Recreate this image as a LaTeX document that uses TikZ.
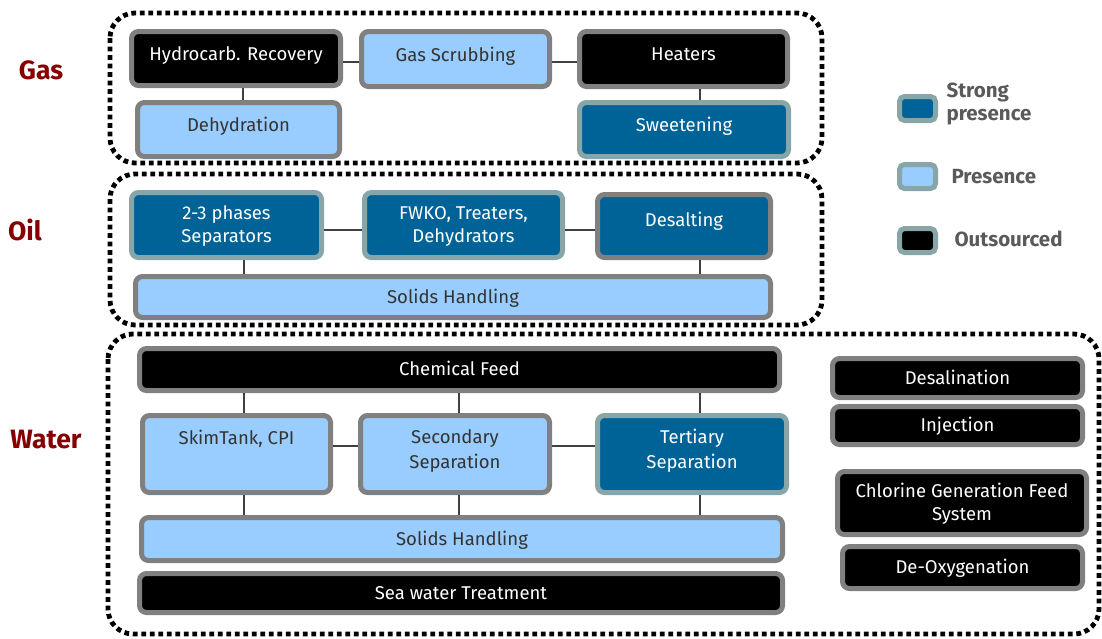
\documentclass[tikz,border=0pt]{standalone}
\usepackage{fontspec}
\setmainfont{Fira Sans}
\definecolor{dblue}{HTML}{006398}
\definecolor{tealb}{HTML}{88A5A8}
\definecolor{gborder}{HTML}{808080}
\definecolor{lblue}{HTML}{99CCFF}
\definecolor{dtext}{HTML}{333333}
\definecolor{dred}{HTML}{850000}
\definecolor{legtext}{HTML}{5A5A5A}
\definecolor{connc}{HTML}{404040}
% struts: text a little above centre (hs), centred (ctop/cbot), higher (us)
\newcommand\hs{\rule[-10pt]{0pt}{22pt}}
\newcommand\us{\rule[-14pt]{0pt}{26pt}}
\newcommand\ctop{\rule{0pt}{18pt}}
\newcommand\cbot{\rule[-6pt]{0pt}{6pt}}
\tikzset{
  box/.style={draw, line width=5pt, rounded corners=7pt, inner sep=0pt, align=center,
    font=\fontsize{18.5}{23}\selectfont},
  sz/.style 2 args={minimum width=#1pt-5pt, minimum height=#2pt-5pt},
  strongbox/.style={box, draw=tealb, fill=dblue, text=white},
  presbox/.style={box, draw=gborder, fill=lblue, text=dtext},
  outbox/.style={box, draw=gborder, fill=black, text=white},
  container/.style={draw=black, line width=4.8pt, dash pattern=on 4.8pt off 3.7pt, rounded corners=25pt},
  conn/.style={draw=connc, line width=1.1pt},
  grouplabel/.style={text=dred, font=\fontsize{26.5}{28}\selectfont\bfseries},
  legendtext/.style={text=legtext, font=\fontsize{20.5}{23.5}\selectfont\bfseries, align=left, anchor=west},
  legbox/.style={draw=tealb, line width=5pt, rounded corners=5pt, minimum width=36pt, minimum height=24pt, inner sep=0pt}
}
\begin{document}
\begin{tikzpicture}[x=1pt, y=-1pt]
\useasboundingbox (0,0) rectangle (1102,638);
\begin{scope}
\clip (0,0) rectangle (1102,638);
% containers
\draw[container] (110,13) rectangle (822,163);
\draw[container] (110,174) rectangle (822,325);
\draw[container] (108,334) rectangle (1099,634);
\end{scope}

% group labels
\node[grouplabel] (lgas) at (41,70) {Gas};
\node[grouplabel] (loil) at (25,229.5) {Oil};
\node[grouplabel] (lwater) at (46,439.5) {Water};

% Gas
\node[outbox, sz={214}{59}] (hydro) at (236,58.5) {\hs Hydrocarb. Recovery};
\node[presbox, sz={193}{60}] (scrub) at (455.5,59) {\hs Gas Scrubbing};
\node[outbox, sz={213}{60}] (heaters) at (683.5,59) {\hs Heaters};
\node[presbox, sz={207}{59}] (dehyd) at (238.5,129.5) {\hs Dehydration};
\node[strongbox, sz={214}{59}] (sweet) at (684,129.5) {\hs Sweetening};

% Oil
\node[strongbox, sz={195}{70}] (sep) at (226.5,225) {\ctop 2-3 phases\\Separators\cbot};
\node[strongbox, sz={203}{70}] (fwko) at (463.5,225) {\ctop FWKO, Treaters,\\Dehydrators\cbot};
\node[strongbox, draw=gborder, sz={178}{68}] (desalt) at (684,226) {\us Desalting};
\node[presbox, sz={640}{46}] (solo) at (453,297) {\ctop\cbot Solids Handling};

% Water
\node[outbox, sz={645}{47}] (chem) at (459.5,369.5) {\ctop\cbot Chemical Feed};
\node[presbox, sz={193}{82}] (skim) at (236.5,454) {\hs SkimTank, CPI\\\hs};
\node[presbox, sz={194}{82}] (second) at (455,454) {\hs Secondary\\Separation\hs};
\node[strongbox, sz={194}{82}] (tert) at (692,454) {\hs Tertiary\\Separation\hs};
\node[presbox, sz={646}{48}] (solw) at (462,539) {\ctop\cbot Solids Handling};
\node[outbox, sz={648}{44}] (sea) at (461,593) {\ctop\cbot Sea water Treatment};

\node[outbox, sz={255}{44}] (desal) at (957.5,378) {\ctop\cbot Desalination};
\node[outbox, sz={255}{43}] (inj) at (957.5,425.5) {\ctop\cbot Injection};
\node[outbox, sz={254}{68}] (chlor) at (962,503) {\ctop Chlorine Generation Feed\\System\cbot};
\node[outbox, sz={245}{47}] (deox) at (962.5,567.5) {\ctop\cbot De-Oxygenation};

% Legend
\node[legbox, fill=dblue] (legstrong) at (917.5,108.5) {};
\node[legendtext] (tstrong) at (943,104) {Strong\\presence};
\node[legbox, fill=lblue] (legpres) at (917.5,176.5) {};
\node[legendtext] (tpres) at (948,177) {Presence};
\node[legbox, fill=black] (legout) at (917.5,240.5) {};
\node[legendtext] (tout) at (951,238.5) {Outsourced};

% connectors
\draw[conn] (hydro.east |- 0,62) -- (scrub.west |- 0,62);
\draw[conn] (scrub.east |- 0,62) -- (heaters.west |- 0,62);
\draw[conn] (hydro.south -| 243,0) -- (dehyd.north -| 243,0);
\draw[conn] (heaters.south -| 700,0) -- (sweet.north -| 700,0);

\draw[conn] (sep.east |- 0,230) -- (fwko.west |- 0,230);
\draw[conn] (fwko.east |- 0,230) -- (desalt.west |- 0,230);
\draw[conn] (sep.south -| 244,0) -- (solo.north -| 244,0);
\draw[conn] (desalt.south -| 700,0) -- (solo.north -| 700,0);

\draw[conn] (chem.south -| 244,0) -- (skim.north -| 244,0);
\draw[conn] (chem.south -| 459,0) -- (second.north -| 459,0);
\draw[conn] (chem.south -| 700,0) -- (tert.north -| 700,0);
\draw[conn] (skim.east |- 0,446) -- (second.west |- 0,446);
\draw[conn] (second.east |- 0,446) -- (tert.west |- 0,446);
\draw[conn] (skim.south -| 244,0) -- (solw.north -| 244,0);
\draw[conn] (second.south -| 459,0) -- (solw.north -| 459,0);
\draw[conn] (tert.south -| 700,0) -- (solw.north -| 700,0);
\end{tikzpicture}
\end{document}
